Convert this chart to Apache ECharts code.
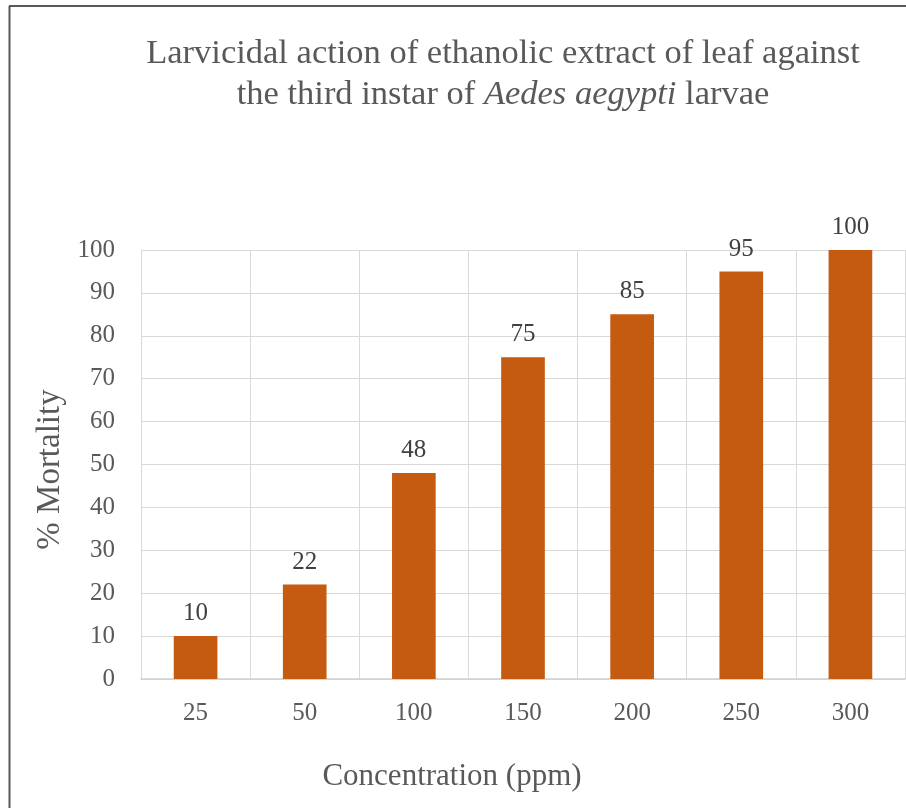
<!DOCTYPE html>
<html>
<head>
<meta charset="utf-8">
<script src="https://cdn.jsdelivr.net/npm/echarts@6/dist/echarts.min.js"></script>
<style>
  html, body { margin: 0; padding: 0; background: #fff; }
  #chart { width: 906px; height: 808px; }
</style>
</head>
<body>
<div id="chart"></div>
<script>
// 数据
var categories = ["25", "50", "100", "150", "200", "250", "300"];
var mortality = [10, 22, 48, 75, 85, 95, 100];
var yTicks = { min: 0, max: 100, interval: 10 };

var serif = "'Liberation Serif', 'DejaVu Serif', serif";
var myChart = echarts.init(document.getElementById("chart"));

var option = {
  backgroundColor: "#fff",
  animation: false,
  title: {
    left: 498,
    top: 28,
    textAlign: "center",
    text: "{n|Larvicidal action of ethanolic extract of leaf against}\n{n|the third instar of }{i|Aedes aegypti}{n| larvae}",
    textStyle: {
      fontWeight: "normal",
      rich: {
        n: { fontFamily: serif, fontSize: 34.5, fontWeight: "normal", color: "#595959", lineHeight: 41 },
        i: { fontFamily: serif, fontSize: 34.5, fontWeight: "normal", color: "#595959", fontStyle: "italic", lineHeight: 41 }
      }
    }
  },
  graphic: [
    // 外边框
    { type: "line", shape: { x1: 9.5, y1: 6, x2: 9.5, y2: 808 }, style: { stroke: "#595959", lineWidth: 2 } },
    { type: "line", shape: { x1: 9, y1: 6, x2: 906, y2: 6 }, style: { stroke: "#595959", lineWidth: 2 } }
  ],
  grid: {
    left: 141,
    right: 1,
    top: 250,
    bottom: 129,
    containLabel: false
  },
  xAxis: {
    type: "category",
    data: categories,
    name: "Concentration (ppm)",
    nameLocation: "middle",
    nameGap: 82,
    nameTextStyle: { fontFamily: serif, fontSize: 31, color: "#595959", padding: [0, 142, 0, 0] },
    axisTick: { show: false },
    axisLine: { show: true, lineStyle: { color: "#d0d0d0", width: 1.5 } },
    axisLabel: { fontFamily: serif, fontSize: 25, color: "#595959", margin: 22 },
    splitLine: { show: true, lineStyle: { color: "#d9d9d9", width: 1 } }
  },
  yAxis: {
    type: "value",
    min: yTicks.min,
    max: yTicks.max,
    interval: yTicks.interval,
    name: "% Mortality",
    nameLocation: "middle",
    nameGap: 74,
    nameTextStyle: { fontFamily: serif, fontSize: 33, color: "#595959", padding: [0, 10, 0, 0] },
    axisLine: { show: true, lineStyle: { color: "#d9d9d9", width: 1 } },
    axisTick: { show: false },
    axisLabel: { fontFamily: serif, fontSize: 25, color: "#595959", margin: 26 },
    splitLine: { show: true, lineStyle: { color: "#d9d9d9", width: 1 } }
  },
  series: [
    {
      type: "bar",
      data: mortality,
      barWidth: "40%",
      itemStyle: { color: "#C55A11" },
      label: {
        show: true,
        position: "top",
        distance: 10,
        fontFamily: serif,
        fontSize: 25,
        color: "#404040"
      }
    }
  ]
};

myChart.setOption(option);
</script>
</body>
</html>
